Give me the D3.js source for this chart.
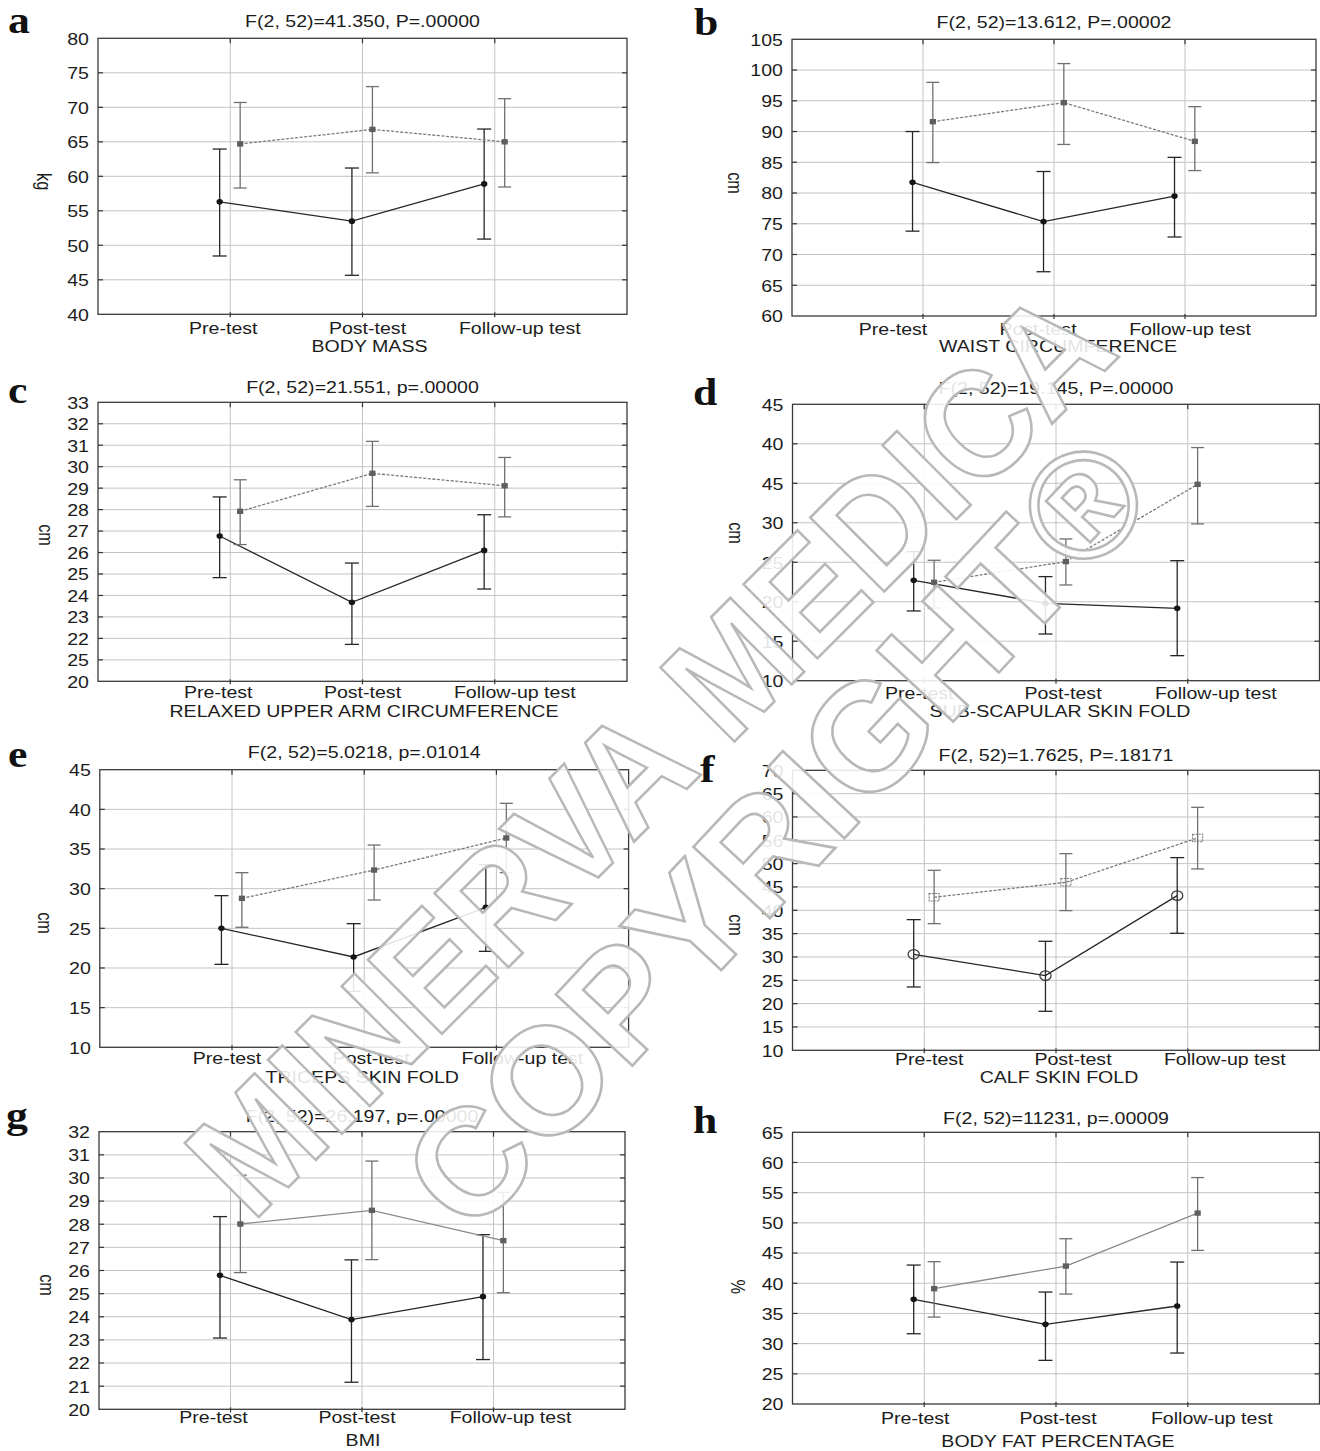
<!DOCTYPE html>
<html>
<head>
<meta charset="utf-8">
<script src="https://d3js.org/d3.v7.min.js"></script>
<style>
  body { margin: 0; background: #fff; }
  svg text { font-family: "Liberation Sans", Arial, sans-serif; fill: #1c1c1c; }
</style>
</head>
<body>
<script>
// ---- data ----
var categories = ["Pre-test", "Post-test", "Follow-up test"];
var panelLetters = ["a", "b", "c", "d", "e", "f", "g", "h"];
var panelTitles = [
  "F(2, 52)=41.350, P=.00000", "F(2, 52)=13.612, P=.00002",
  "F(2, 52)=21.551, p=.00000", "F(2, 52)=19.145, P=.00000",
  "F(2, 52)=5.0218, p=.01014", "F(2, 52)=1.7625, P=.18171",
  "F(2, 52)=26.197, p=.00000", "F(2, 52)=11231, p=.00009"
];
var xTitles = ["BODY MASS", "WAIST CIRCUMFERENCE", "RELAXED UPPER ARM CIRCUMFERENCE",
  "SUB-SCAPULAR SKIN FOLD", "TRICEPS SKIN FOLD", "CALF SKIN FOLD", "BMI", "BODY FAT PERCENTAGE"];
var yTitles = ["kg", "cm", "cm", "cm", "cm", "cm", "cm", "%"];
var yDomains = [[40, 80], [60, 105], [20, 33], [10, 45], [10, 45], [10, 70], [20, 32], [20, 65]];
var yStep = [5, 5, 1, 5, 5, 5, 1, 5];
// tick labels bottom to top, printed as in the figure
var yTickLabels = [
  ["40", "45", "50", "55", "60", "65", "70", "75", "80"],
  ["60", "65", "70", "75", "80", "85", "90", "95", "100", "105"],
  ["20", "25", "22", "23", "24", "25", "26", "27", "28", "29", "30", "31", "32", "33"],
  ["10", "15", "20", "25", "30", "45", "40", "45"],
  ["10", "15", "20", "25", "30", "35", "40", "45"],
  ["10", "15", "20", "25", "30", "35", "40", "45", "50", "56", "60", "65", "70"],
  ["20", "21", "22", "23", "24", "25", "26", "27", "28", "29", "30", "31", "32"],
  ["20", "25", "30", "35", "40", "45", "50", "55", "60", "65"]
];

// group 1 (solid line, circles)
var g1Mean = [[56.3, 53.5, 58.9], [81.75, 75.35, 79.5], [26.77, 23.68, 26.1], [22.71, 19.8, 19.16],
  [25.0, 21.39, 27.65], [30.57, 26.0, 43.14], [25.79, 23.88, 24.87], [37.33, 33.19, 36.23]];
var g1Upper = [[63.95, 61.2, 66.85], [90.0, 83.5, 85.8], [28.59, 25.51, 27.76], [26.34, 23.18, 25.2],
  [29.12, 25.59, 33.03], [38.0, 33.36, 51.29], [28.33, 26.46, 27.55], [43.01, 38.54, 43.51]];
var g1Lower = [[48.45, 45.65, 50.9], [73.8, 67.2, 72.85], [24.83, 21.72, 24.3], [18.83, 15.91, 13.17],
  [20.46, 17.06, 22.1], [23.57, 18.36, 35.07], [23.08, 21.17, 22.15], [31.64, 27.23, 28.44]];
// group 2 (grey line, squares)
var g2Mean = [[64.7, 66.8, 65.0], [91.6, 94.7, 88.4], [27.92, 29.69, 29.11], [22.46, 25.08, 34.87],
  [28.78, 32.35, 36.39], [42.79, 46.0, 55.5], [28.01, 28.6, 27.29], [39.1, 42.85, 51.62]];
var g2Upper = [[70.7, 73.0, 71.25], [98.0, 101.05, 94.05], [29.39, 31.18, 30.43], [25.25, 27.95, 39.52],
  [32.02, 35.5, 40.76], [48.57, 52.14, 62.07], [30.12, 30.73, 29.38], [43.57, 47.37, 57.5]];
var g2Lower = [[58.3, 60.5, 58.45], [84.95, 87.9, 83.65], [26.37, 28.15, 27.66], [19.2, 22.12, 29.85],
  [25.13, 28.57, 32.02], [37.14, 39.93, 48.86], [25.91, 26.47, 25.04], [34.4, 38.21, 45.44]];

// ---- layout ----
var plotBoxes = [[98, 627, 38.3, 314.3], [792, 1316, 39.3, 316], [98, 627, 402.3, 681.3],
  [792.5, 1319.5, 404.3, 680.7], [99.8, 628.6, 769.7, 1047.3], [792.5, 1319.5, 770.3, 1050.3],
  [99, 625, 1131.7, 1409.3], [792.5, 1319.5, 1132.3, 1404]];
var letterPos = [[8, 33], [694, 35], [8, 403], [693, 405], [8, 767], [700, 782], [6, 1128], [693, 1133]];
var titleY = [27.3, 28.3, 392.7, 394, 758.3, 761, 1121.7, 1124];
var xLabelShift = [[-7, 5, 25], [-30, -16, 5], [-12, 0, 20], [-5, 7, 28], [-5, 7, 26], [5, 17, 37], [-17, -5, 17], [-9, 2, 24]];
var xLabelY = [334.3, 335, 698.3, 699.3, 1064.3, 1065, 1423.3, 1424];
var xTitleY = [352.3, 352.3, 717.3, 716.7, 1082.7, 1083.3, 1446, 1446.7];
var xTitleShift = [7, 4, 1.5, 4, -2, 3, 1, 2];
var yTitlePos = [[43.5, 181.7], [735, 183], [45.5, 535], [736, 533], [45, 923], [736, 925], [47, 1285], [738, 1286.7]];

var FS = 16.3, SX = 1.2;   // the figure is stretched horizontally

var width = 1320, height = 1451;
var svg = d3.select("body").append("svg")
  .attr("width", width).attr("height", height);

function txt(g, x, y, s, anchor, size) {
  return g.append("text")
    .attr("transform", "translate(" + x + "," + y + ") scale(" + SX + ",1)")
    .attr("text-anchor", anchor || "middle")
    .style("font-size", (size || FS) + "px")
    .text(s);
}

function drawPanel(i) {
  var b = plotBoxes[i];
  var g = svg.append("g");
  var x = d3.scaleLinear().domain([0, 4]).range([b[0], b[1]]);
  var y = d3.scaleLinear().domain(yDomains[i]).range([b[3], b[2]]);
  var ticks = d3.range(yDomains[i][0], yDomains[i][1] + yStep[i] / 2, yStep[i]);
  var catX = [1, 2, 3];

  // grid
  g.selectAll(".hg").data(ticks.slice(1, -1)).enter().append("line")
    .attr("x1", b[0]).attr("x2", b[1])
    .attr("y1", function(d) { return y(d); }).attr("y2", function(d) { return y(d); })
    .attr("stroke", "#c4c4c4").attr("stroke-width", 1);
  g.selectAll(".vg").data(catX).enter().append("line")
    .attr("x1", function(d) { return x(d); }).attr("x2", function(d) { return x(d); })
    .attr("y1", b[2]).attr("y2", b[3])
    .attr("stroke", "#c4c4c4").attr("stroke-width", 1);

  // small inner ticks on the frame
  ticks.slice(1, -1).forEach(function(d) {
    g.append("line").attr("x1", b[0]).attr("x2", b[0] + 5).attr("y1", y(d)).attr("y2", y(d))
      .attr("stroke", "#333").attr("stroke-width", 1.2);
    g.append("line").attr("x1", b[1] - 5).attr("x2", b[1]).attr("y1", y(d)).attr("y2", y(d))
      .attr("stroke", "#333").attr("stroke-width", 1.2);
  });
  catX.forEach(function(d) {
    g.append("line").attr("x1", x(d)).attr("x2", x(d)).attr("y1", b[2]).attr("y2", b[2] + 5)
      .attr("stroke", "#333").attr("stroke-width", 1.2);
    g.append("line").attr("x1", x(d)).attr("x2", x(d)).attr("y1", b[3] - 2).attr("y2", b[3] + 3)
      .attr("stroke", "#333").attr("stroke-width", 1.2);
  });

  // frame
  g.append("rect").attr("x", b[0]).attr("y", b[2])
    .attr("width", b[1] - b[0]).attr("height", b[3] - b[2])
    .attr("fill", "none").attr("stroke", "#3a3a3a").attr("stroke-width", 1.3);

  // y axis labels via d3 axis
  var yAxis = d3.axisLeft(y).tickValues(ticks)
    .tickFormat(function(d, j) { return yTickLabels[i][j]; })
    .tickSize(0).tickPadding(0);
  var ax = g.append("g").attr("transform", "translate(" + (b[0] - 9) + ",0)").call(yAxis);
  ax.select(".domain").remove();
  ax.selectAll("text")
    .attr("x", 0).attr("dy", "0.36em")
    .attr("transform", "scale(" + SX + ",1)")
    .style("font-size", FS + "px")
    .style("font-family", "Liberation Sans, Arial, sans-serif")
    .attr("fill", "#1c1c1c");

  // category labels and titles
  catX.forEach(function(d, j) {
    txt(g, x(d) + xLabelShift[i][j], xLabelY[i], categories[j]);
  });
  txt(g, (b[0] + b[1]) / 2 + xTitleShift[i], xTitleY[i], xTitles[i]);
  txt(g, (b[0] + b[1]) / 2, titleY[i], panelTitles[i]);
  g.append("text")
    .attr("transform", "translate(" + yTitlePos[i][0] + "," + yTitlePos[i][1] + ") rotate(90) scale(1," + SX + ")")
    .attr("text-anchor", "middle").attr("dy", "0.35em")
    .style("font-size", FS + "px").text(yTitles[i]);
  g.append("text")
    .attr("transform", "translate(" + letterPos[i][0] + "," + letterPos[i][1] + ") scale(1.15,1)")
    .style("font-family", "Liberation Serif, Times New Roman, serif")
    .style("font-weight", "bold").style("font-size", "38px")
    .style("fill", "#111").text(panelLetters[i]);

  var hollow = (i === 5);
  var dashed = (i < 6);
  var series = [
    { mean: g1Mean[i], up: g1Upper[i], lo: g1Lower[i], off: -0.08, col: "#262626", cap: 7, shape: "circle" },
    { mean: g2Mean[i], up: g2Upper[i], lo: g2Lower[i], off: 0.075, col: "#707070", cap: 6.5, shape: "square" }
  ];
  series.forEach(function(s, k) {
    var px = catX.map(function(d) { return x(d + s.off); });
    // error bars
    s.mean.forEach(function(m, j) {
      var eb = g.append("g").attr("stroke", s.col).attr("stroke-width", 1.3);
      eb.append("line").attr("x1", px[j]).attr("x2", px[j]).attr("y1", y(s.up[j])).attr("y2", y(s.lo[j]));
      eb.append("line").attr("x1", px[j] - s.cap).attr("x2", px[j] + s.cap).attr("y1", y(s.up[j])).attr("y2", y(s.up[j]));
      eb.append("line").attr("x1", px[j] - s.cap).attr("x2", px[j] + s.cap).attr("y1", y(s.lo[j])).attr("y2", y(s.lo[j]));
    });
    // line
    var line = d3.line().x(function(d, j) { return px[j]; }).y(function(d) { return y(d); });
    var p = g.append("path").datum(s.mean).attr("d", line)
      .attr("fill", "none").attr("stroke", s.col).attr("stroke-width", 1.3);
    if (k === 1 && dashed) p.attr("stroke-dasharray", "3,1.6").attr("stroke", "#7a7a7a");
    if (k === 1 && !dashed) p.attr("stroke", "#8a8a8a");
    // markers
    s.mean.forEach(function(m, j) {
      if (s.shape === "circle") {
        g.append("ellipse").attr("cx", px[j]).attr("cy", y(m))
          .attr("rx", hollow ? 5.6 : 3.2).attr("ry", hollow ? 4.7 : 2.8)
          .attr("fill", hollow ? "none" : "#151515")
          .attr("stroke", hollow ? "#333" : "none").attr("stroke-width", 1.2);
      } else {
        var w = hollow ? 10 : 6.2, h = hollow ? 7.5 : 5.4;
        g.append("rect").attr("x", px[j] - w / 2).attr("y", y(m) - h / 2)
          .attr("width", w).attr("height", h)
          .attr("fill", hollow ? "none" : "#5e5e5e")
          .attr("stroke", hollow ? "#777" : "none").attr("stroke-width", 1.1)
          .attr("stroke-dasharray", hollow ? "2,1" : null);
      }
    });
  });
}

for (var i = 0; i < 8; i++) drawPanel(i);

// watermark (outlined letters)
var wmLines = ["MINERVA MEDICA", "COPYRIGHT\u00AE"];
var wmCenter = [[648, 750], [775, 832]];
var wmAngle = [-45, -47];
var wmLength = [1230, 1010];
var wm = svg.append("g");
wmLines.forEach(function(s, k) {
  wm.append("text")
    .attr("transform", "translate(" + wmCenter[k][0] + "," + wmCenter[k][1] + ") rotate(" + wmAngle[k] + ")")
    .attr("x", 0).attr("y", 55)
    .attr("text-anchor", "middle")
    .attr("textLength", wmLength[k]).attr("lengthAdjust", "spacingAndGlyphs")
    .style("font-family", "Liberation Sans, Arial, sans-serif")
    .style("font-weight", "bold")
    .style("font-size", "152px")
    .style("fill", "#ffffff").style("fill-opacity", 0.88)
    .style("stroke", "#b8b8b8").style("stroke-width", 2.6)
    .text(s);
});
</script>
</body>
</html>
